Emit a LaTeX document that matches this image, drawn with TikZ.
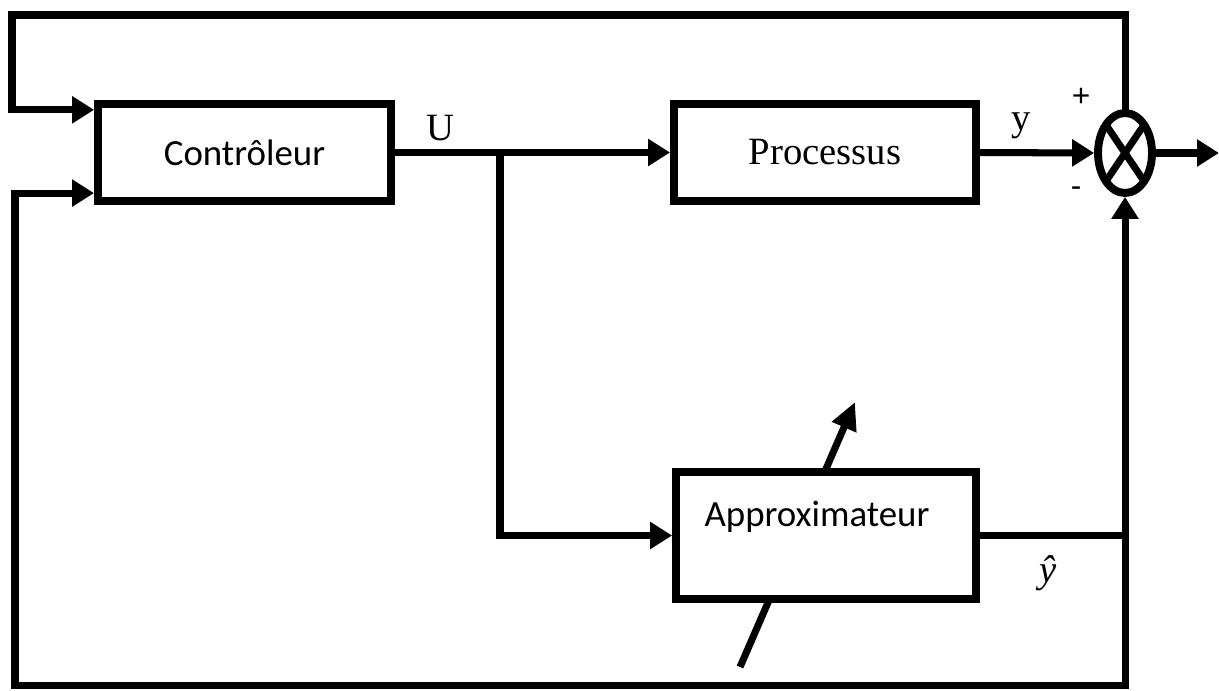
\documentclass[tikz,border=0pt]{standalone}
\usepackage{fontspec}
\setmainfont{Liberation Serif}
\newfontfamily\calfont{Carlito}
\newfontfamily\arialfont{Liberation Sans}
\usetikzlibrary{arrows.meta,shapes.geometric,calc}
\begin{document}
\begin{tikzpicture}[x=0.02cm,y=-0.02cm,
  blockbox/.style={draw,line width=4.5pt,fill=white,inner sep=0pt,minimum height=1.94cm},
  wire/.style={line width=4pt},
  conn/.style={wire,-{Triangle[length=0.44cm,width=0.52cm]}},
  caltext/.style={font=\calfont\fontsize{21}{24}\selectfont,inner sep=0pt},
  sertext/.style={font=\fontsize{22}{26}\selectfont,inner sep=0pt},
  signtext/.style={font=\arialfont\fontsize{18}{20}\selectfont,inner sep=0pt}]
\useasboundingbox (0,0) rectangle (1219,690);
% adjustable-parameter arrow (behind the approximator box)
\coordinate (pa) at (740,667);
\coordinate (pb) at (855,402);
\draw[wire,-{Triangle[length=0.55cm,width=0.5cm]}] (pa) -- (pb);
% blocks
\node[blockbox,minimum width=5.86cm,caltext] (ctrl) at (244.5,152.5) {Contrôleur};
\node[blockbox,minimum width=6.04cm,sertext] (proc) at (825,152.5) {Processus};
\node[blockbox,minimum width=6.0cm,minimum height=2.54cm] (approx) at (826,535.5) {};
\node[caltext] (approxtxt) at (817,517) {Approximateur};
\node[draw,ellipse,line width=4.5pt,inner sep=0pt,outer sep=0pt,minimum width=1.08cm,minimum height=1.6cm] (sum) at (1125,153) {};
\draw[line width=4pt] (sum.north west) -- (sum.south east);
\draw[line width=4pt] (sum.north east) -- (sum.south west);
% helper coordinates
\coordinate (tl) at (12,15);
\coordinate (bl) at (15,685);
\coordinate (cin1) at ($(ctrl.north west)!0.093!(ctrl.south west)$);
\coordinate (cin2) at ($(ctrl.north west)!0.887!(ctrl.south west)$);
\coordinate (j1) at (500,152.5);
\coordinate (out) at (1219,153);
\coordinate (j2) at (sum.south |- approx.east);
% connectors
\draw[conn] (sum.north) |- (tl) |- (cin1);
\draw[conn] (ctrl.east) -- (proc.west);
\draw[conn] (j1) |- (approx.west);
\draw[conn] ([xshift=-1pt]proc.east) -- ([xshift=-2.2pt]sum.west);
\draw[conn] ([xshift=2pt]sum.east) -- (out);
\draw[conn] (approx.east) -| ([yshift=-2.2pt]sum.south);
\draw[conn] (j2) |- (bl) |- (cin2);
% labels
\node[sertext] (lu) at (440,128) {U};
\node[sertext] (ly) at (1021,126) {y};
\node[signtext] (lplus) at (1081,97) {+};
\node[signtext] (lminus) at (1076,192) {-};
\node[sertext] (lyhat) at (1048,573) {\textit{ŷ}};
\end{tikzpicture}
\end{document}
